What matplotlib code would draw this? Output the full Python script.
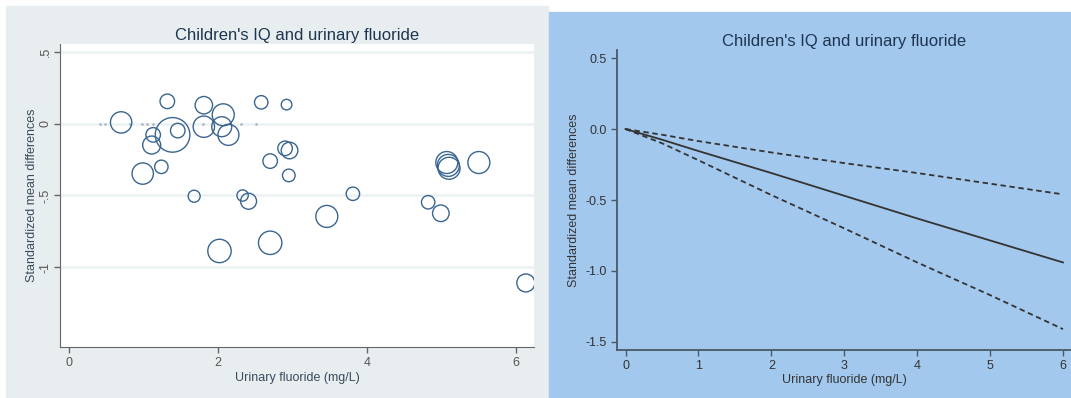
import matplotlib
matplotlib.use("Agg")
import matplotlib.pyplot as plt
from matplotlib.patches import Rectangle

plt.rcParams['font.family'] = ['Liberation Sans', 'DejaVu Sans']

# bubble plot: urinary fluoride (mg/L), standardized mean difference, study weight
uf = [0.70, 1.32, 1.81, 1.81, 1.39, 1.46, 1.13, 1.11, 0.99, 1.24, 1.68,
      2.07, 2.05, 2.14, 2.58, 2.92, 2.90, 2.96, 2.70, 2.95, 2.33, 2.41,
      3.46, 2.02, 2.70, 3.81, 4.82, 4.99, 5.07, 5.09, 5.10, 5.50, 6.13]
smd = [0.01, 0.157, 0.13, -0.02, -0.077, -0.047, -0.077, -0.148, -0.347, -0.30, -0.505,
       0.063, -0.02, -0.077, 0.15, 0.134, -0.171, -0.186, -0.26, -0.36, -0.50, -0.54,
       -0.646, -0.887, -0.83, -0.488, -0.547, -0.624, -0.27, -0.29, -0.31, -0.27, -1.11]
weight = [114, 53, 76, 114, 300, 53, 53, 81, 114, 45, 36,
          121, 100, 110, 45, 28, 53, 69, 53, 40, 32, 64,
          121, 137, 137, 45, 45, 69, 121, 121, 121, 121, 81]
# zero-weight studies drawn as dots on the null line
uf_zero = [0.42, 0.48, 0.82, 0.98, 1.05, 1.13, 1.80, 2.31, 2.51]

# fitted meta-regression line with 95% CI
fit_x = [0, 0.5, 1, 2, 3, 4, 5, 6]
fit_mid = [0, -0.075, -0.155, -0.31, -0.47, -0.63, -0.785, -0.94]
fit_hi = [0, -0.04, -0.085, -0.165, -0.24, -0.31, -0.385, -0.46]
fit_lo = [0, -0.10, -0.22, -0.465, -0.70, -0.94, -1.17, -1.41]

title = "Children's IQ and urinary fluoride"
xlab = "Urinary fluoride (mg/L)"
ylab = "Standardized mean differences"

W, H = 1071, 398
fig = plt.figure(figsize=(W / 100, H / 100), dpi=100)
fig.patches.append(Rectangle((6 / W, 0), 542 / W, 392 / H, transform=fig.transFigure,
                             color='#e8eef0', zorder=-10))
fig.patches.append(Rectangle((549 / W, 0), 522 / W, 386 / H, transform=fig.transFigure,
                             color='#a3c8ee', zorder=-10))

navy = '#1e3550'
axc = '#666666'
circ = '#3a6590'

# left panel
ax = fig.add_axes([60 / W, 1 - 347 / H, 474 / W, 303 / H])
ax.set_facecolor('white')
for yv in [0.5, 0, -0.5, -1]:
    ax.axhline(yv, color='#edf2f3', lw=2, zorder=1)
ax.scatter(uf_zero, [0] * len(uf_zero), s=0.8, color='#a6b8c8', zorder=2)
ax.scatter(uf, smd, s=[w * 2.07 for w in weight], facecolors='none',
           edgecolors=circ, linewidths=1.0, zorder=3)
ax.set_xlim(-0.12, 6.24)
ax.set_ylim(-1.557, 0.557)
ax.set_xticks([0, 2, 4, 6])
ax.set_yticks([0.5, 0, -0.5, -1])
ax.set_yticklabels(['.5', '0', '-.5', '-1'], rotation=90, va='center')
ax.tick_params(colors=axc, labelcolor='#555555', labelsize=9, length=4, width=1)
ax.tick_params(axis='y', pad=2)
for s in ['top', 'right']:
    ax.spines[s].set_visible(False)
for s in ['left', 'bottom']:
    ax.spines[s].set_color(axc)
ax.set_title(title, fontsize=12, color=navy, pad=3)
ax.set_xlabel(xlab, fontsize=9, color='#3a4a5c', labelpad=2)
ax.set_ylabel(ylab, fontsize=9, color='#3a4a5c', labelpad=1)

# right panel
ax2 = fig.add_axes([617 / W, 1 - 350 / H, 454 / W, 300 / H])
ax2.patch.set_alpha(0)
ax2.plot(fit_x, fit_mid, color='#333333', lw=1.3)
ax2.plot(fit_x, fit_hi, color='#333333', lw=1.3, ls=(0, (3, 2)))
ax2.plot(fit_x, fit_lo, color='#333333', lw=1.3, ls=(0, (3, 2)))
ax2.set_xlim(-0.117, 6.11)
ax2.set_ylim(-1.557, 0.557)
ax2.set_xticks(range(7))
ax2.set_yticks([0.5, 0, -0.5, -1, -1.5])
ax2.set_yticklabels(['0.5', '0.0', '-0.5', '-1.0', '-1.5'])
ax2.tick_params(colors='#4a5866', labelcolor='#333333', labelsize=9, length=4, width=1)
for s in ['top', 'right']:
    ax2.spines[s].set_visible(False)
for s in ['left', 'bottom']:
    ax2.spines[s].set_color('#4a5866')
    ax2.spines[s].set_linewidth(1.3)
ax2.set_title(title, fontsize=12, color=navy, pad=3)
ax2.set_xlabel(xlab, fontsize=9, color='#333333', labelpad=1)
ax2.set_ylabel(ylab, fontsize=9, color='#333333', labelpad=4)

fig.savefig('out.png', dpi=100)
